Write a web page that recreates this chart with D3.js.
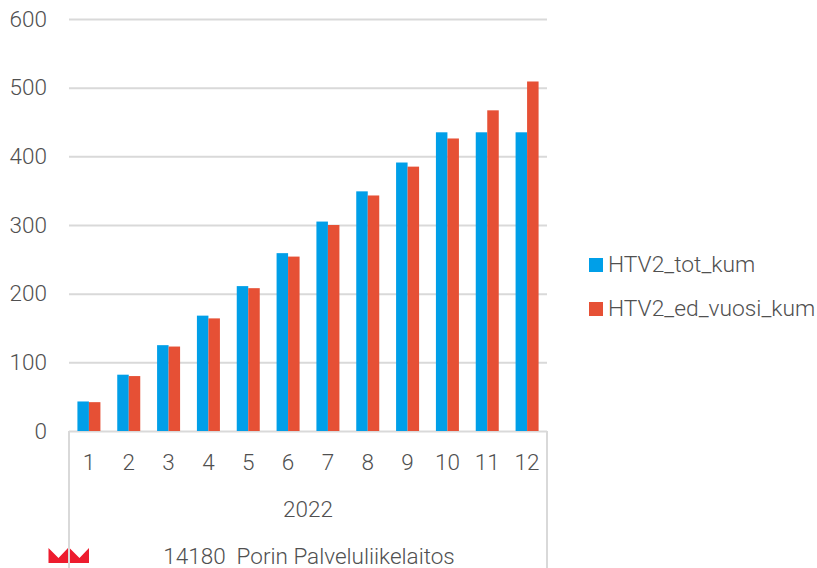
<!DOCTYPE html>
<html>
<head>
<meta charset="utf-8">
<script src="https://cdn.jsdelivr.net/npm/d3@7"></script>
<style>
    html, body { margin: 0; padding: 0; background: #fff; }
    text { font-family: Roboto, sans-serif; font-weight: 300; fill: #505050; }
</style>
</head>
<body>
<div id="chart"></div>
<script>
var months = [1, 2, 3, 4, 5, 6, 7, 8, 9, 10, 11, 12];
var seriesNames = ["HTV2_tot_kum", "HTV2_ed_vuosi_kum"];
var totKum = [43, 82, 125, 168, 211, 259, 305, 349, 391, 435, 435, 435];
var edVuosiKum = [42, 80, 123, 164, 208, 254, 300, 343, 385, 426, 467, 509];
var yTicks = [0, 100, 200, 300, 400, 500, 600];
var yearLabel = "2022";
var orgLabel = "14180  Porin Palveluliikelaitos";

var width = 817;
var height = 568;
var fontSize = 22.5;
var gridColor = "#d9d9d9";
var colors = ["#009fe8", "#e65035"];

var svg = d3.select("#chart").append("svg")
    .attr("width", width)
    .attr("height", height)
    .style("display", "block");

var x = d3.scaleBand().domain(months).range([69, 547]);
var x1 = d3.scaleBand().domain([0, 1]).range([0, 23]);
var y = d3.scaleLinear().domain([0, 600]).range([431, 19]);

// Logo, the frame line runs over it
var logo = svg.append("g").attr("fill", "#ed1c2e");
[48.5, 69.5].forEach(function (lx) {
    logo.append("path")
        .attr("d", d3.line()([[lx, 548], [lx + 10, 558], [lx + 19.5, 548], [lx + 19.5, 563], [lx, 563]]) + "Z");
});

// Gridlines and value labels
var yAxis = d3.axisLeft(y).tickValues(yTicks).tickSize(-(547 - 69)).tickPadding(22);
var yG = svg.append("g").attr("transform", "translate(69,0)").call(yAxis);
yG.select(".domain").remove();
yG.selectAll("line").attr("stroke", gridColor).attr("stroke-width", 2);
yG.selectAll("text").attr("font-size", fontSize).style("fill", "#505050");

// Multi-level category frame
svg.append("g").selectAll("line")
    .data([[69, 431, 69, 568], [547, 431, 547, 568]])
    .enter().append("line")
    .attr("x1", function (d) { return d[0]; })
    .attr("y1", function (d) { return d[1]; })
    .attr("x2", function (d) { return d[2]; })
    .attr("y2", function (d) { return d[3]; })
    .attr("stroke", gridColor)
    .attr("stroke-width", 2);

// Bars
[totKum, edVuosiKum].forEach(function (values, s) {
    svg.append("g").selectAll("rect")
        .data(values)
        .enter().append("rect")
        .attr("x", function (d, i) { return x(months[i]) + (x.bandwidth() - 23) / 2 + x1(s); })
        .attr("y", function (d) { return y(d); })
        .attr("width", x1.bandwidth())
        .attr("height", function (d) { return y(0) - y(d); })
        .attr("fill", colors[s]);
});

// Month labels
svg.append("g").selectAll("text")
    .data(months)
    .enter().append("text")
    .attr("x", function (d) { return x(d) + x.bandwidth() / 2; })
    .attr("y", 470)
    .attr("text-anchor", "middle")
    .attr("font-size", fontSize)
    .text(function (d) { return d; });

svg.append("text")
    .attr("x", 308).attr("y", 517)
    .attr("text-anchor", "middle")
    .attr("font-size", fontSize)
    .text(yearLabel);

svg.append("text")
    .attr("x", 309).attr("y", 564)
    .attr("text-anchor", "middle")
    .attr("font-size", fontSize)
    .style("white-space", "pre")
    .text(orgLabel);

// Legend
var legend = svg.append("g").selectAll("g")
    .data(seriesNames)
    .enter().append("g")
    .attr("transform", function (d, i) { return "translate(589," + (256 + i * 44) + ")"; });
legend.append("rect")
    .attr("width", 14).attr("height", 14)
    .attr("y", 2)
    .attr("fill", function (d, i) { return colors[i]; });
legend.append("text")
    .attr("x", 19).attr("y", 16)
    .attr("font-size", 22.8)
    .text(function (d) { return d; });
</script>
</body>
</html>
